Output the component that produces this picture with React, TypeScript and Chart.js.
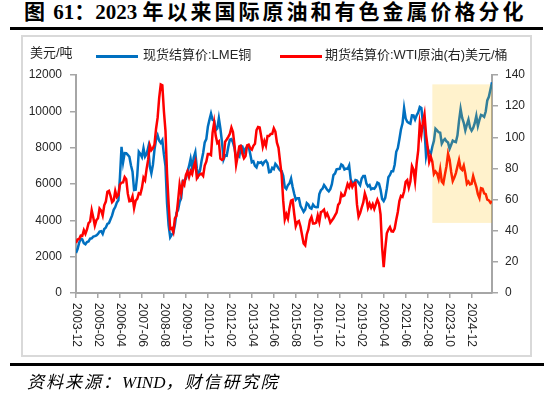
import React, { useEffect, useRef } from 'react';
import { Chart, registerables } from 'chart.js';

Chart.register(...registerables);

// ---- data (monthly, first value = 2003-12) ----
const X_TICK_LABELS = ['2003-12', '2005-02', '2006-04', '2007-06', '2008-08', '2009-10', '2010-12', '2012-02', '2013-04', '2014-06', '2015-08', '2016-10', '2017-12', '2019-02', '2020-04', '2021-06', '2022-08', '2023-10', '2024-12'];
const TICK_STEP_MONTHS = 14;

const COPPER_LABEL = '现货结算价:LME铜';
const WTI_LABEL = '期货结算价:WTI原油(右)';

const COPPER = [
  2200,
  2420, 2760, 3000, 2950, 2740, 2680, 2810, 2840, 2990, 3010, 3100, 3130,
  3170, 3250, 3380, 3400, 3250, 3520, 3600, 3800, 3850, 4060, 4270, 4580,
  4730, 4980, 5100, 6380, 8050, 7200, 7700, 7690, 7600, 7500, 7030, 6680,
  5670, 5690, 6450, 7770, 7650, 7480, 7970, 7510, 7650, 8010, 6970, 6590,
  7060, 7890, 8440, 8680, 8380, 8260, 8410, 7630, 6990, 4930, 3720, 3070,
  3220, 3310, 3750, 4410, 4570, 5010, 5220, 6160, 6200, 6290, 6680, 6980,
  7390, 6850, 7460, 7750, 6840, 6500, 6740, 7280, 7710, 8290, 8470, 9150,
  9530, 9870, 9530, 9490, 8960, 9060, 9620, 9040, 8300, 7350, 7580, 7560,
  8040, 8440, 8470, 8290, 7960, 7420, 7580, 7510, 8090, 8060, 7710, 7960,
  8050, 8060, 7650, 7200, 7250, 7000, 6910, 7190, 7160, 7200, 7070, 7220,
  7290, 7150, 6650, 6670, 6890, 6820, 7110, 7000, 6870, 6740, 6710, 6450,
  5830, 5730, 5940, 6040, 6300, 5830, 5460, 5130, 5220, 5220, 4800, 4640,
  4470, 4600, 4950, 4870, 4690, 4640, 4870, 4750, 4720, 4730, 5450, 5660,
  5740, 5940, 5820, 5680, 5600, 5720, 5990, 6490, 6580, 6810, 6830, 6840,
  7070, 7010, 6800, 6850, 6830, 7020, 6250, 6050, 6050, 6220, 6190, 6070,
  5940, 6300, 6440, 6440, 6030, 5870, 5940, 5710, 5760, 5740, 5860, 6080,
  6030, 5690, 5180, 5060, 5240, 5750, 6370, 6500, 6700, 6700, 7060, 7770,
  7970, 8460, 9000, 9340, 10180, 9610, 9430, 9360, 9320, 9780, 9770, 9550,
  9780, 9940, 10240, 10180, 9360, 9030, 7530, 7980, 7750, 7650, 8050, 8370,
  9040, 8950, 8850, 8820, 8230, 8390, 8480, 8350, 8280, 7940, 8160, 8390,
  8340, 8310, 8680, 9480, 10130, 9640, 9370, 8950, 9270, 9550, 9110, 8940,
  9090, 9350, 9750, 9200, 9530, 9800, 9770, 9700, 9990, 10600, 10800, 11200,
  11600,
];

const WTI = [
  32.1,
  34.3, 34.7, 36.8, 36.7, 40.3, 38.0, 40.8, 44.9, 45.9, 53.1, 48.5, 43.3,
  46.8, 48.0, 54.3, 53.0, 49.8, 56.3, 58.7, 65.0, 65.6, 62.4, 58.3, 59.4,
  65.5, 61.6, 62.9, 69.7, 70.9, 71.0, 74.4, 73.0, 63.8, 58.9, 59.1, 62.0,
  54.5, 59.3, 60.4, 64.0, 63.5, 67.5, 74.1, 72.4, 79.9, 85.8, 94.8, 91.7,
  93.0, 95.4, 105.5, 112.6, 125.4, 133.9, 133.4, 116.7, 104.1, 76.6, 57.3, 41.1,
  41.7, 39.1, 47.9, 49.6, 59.0, 69.6, 64.2, 71.1, 69.4, 75.7, 78.0, 74.5,
  78.3, 76.4, 81.2, 84.3, 73.7, 75.3, 76.3, 76.6, 75.2, 81.9, 84.3, 89.2,
  89.2, 88.6, 102.9, 109.5, 100.9, 96.3, 97.3, 86.3, 85.5, 86.3, 97.2, 98.6,
  100.3, 102.2, 106.2, 103.3, 94.7, 82.3, 87.9, 94.1, 94.5, 89.5, 86.5, 87.9,
  94.8, 95.3, 92.9, 92.0, 94.5, 95.8, 104.6, 106.6, 106.3, 100.5, 93.9, 97.6,
  94.6, 100.8, 100.8, 102.1, 102.2, 105.8, 103.6, 96.5, 93.2, 84.4, 75.8, 59.3,
  47.2, 50.6, 47.8, 54.5, 59.3, 59.8, 50.9, 42.9, 45.5, 46.2, 42.7, 37.3,
  31.8, 30.6, 37.6, 40.8, 46.7, 48.8, 44.7, 44.7, 45.2, 49.8, 45.7, 52.0,
  52.5, 53.5, 49.3, 51.1, 48.5, 45.2, 46.6, 48.0, 49.8, 51.6, 56.6, 57.9,
  63.7, 62.2, 62.7, 66.3, 70.0, 67.9, 71.0, 68.1, 70.2, 70.8, 56.7, 49.0,
  51.4, 54.9, 58.2, 63.9, 60.8, 54.7, 57.4, 54.8, 57.0, 54.0, 57.0, 59.9,
  57.5, 50.5, 29.2, 16.6, 28.5, 38.3, 40.7, 42.3, 39.6, 39.4, 41.4, 47.0,
  52.0, 59.0, 62.3, 61.7, 65.2, 71.4, 72.5, 67.7, 71.6, 81.5, 79.2, 71.7,
  83.2, 91.6, 108.5, 101.8, 109.6, 114.8, 101.6, 93.7, 84.3, 87.6, 84.4, 76.4,
  78.1, 76.8, 73.3, 79.4, 71.6, 70.3, 76.1, 81.4, 89.4, 85.6, 77.7, 71.9,
  74.1, 77.0, 81.3, 85.4, 80.0, 79.0, 81.8, 76.7, 70.2, 71.6, 69.7, 70.1,
  75.1, 71.5, 68.2, 63.5, 61.0, 67.3, 67.0, 64.0, 63.5, 60.0, 59.5, 58.0,
  59.0,
];

// highlighted period: month index (from 2003-12) and right-axis value range
const SHADE_START_INDEX = 227; // 2022-11
const SHADE_WTI_RANGE = [45, 134];

const LEFT_MAX = 12000;
const LEFT_STEP = 2000;
const RIGHT_MAX = 140;
const RIGHT_STEP = 20;

const AXIS_GRAY = '#a6a6a6';
const TEXT_COLOR = '#262626';
const TICK_FONT = { family: '"Liberation Sans", Arial, sans-serif', size: 12 };

const shadePlugin = {
  id: 'shade',
  afterDatasetsDraw(chart: any) {
    const { ctx, scales } = chart;
    const x0 = scales.x.getPixelForValue(SHADE_START_INDEX);
    const x1 = scales.x.getPixelForValue(COPPER.length - 1);
    const y0 = scales.y1.getPixelForValue(SHADE_WTI_RANGE[1]);
    const y1 = scales.y1.getPixelForValue(SHADE_WTI_RANGE[0]);
    ctx.save();
    ctx.fillStyle = 'rgba(255,192,0,0.2)';
    ctx.fillRect(x0, y0, x1 - x0, y1 - y0);
    ctx.restore();
  },
};

const xLabelPlugin = {
  id: 'xLabels',
  afterDraw(chart: any) {
    const { ctx } = chart;
    const sx = chart.scales.x;
    ctx.save();
    ctx.font = `${TICK_FONT.size}px ${TICK_FONT.family}`;
    ctx.fillStyle = TEXT_COLOR;
    ctx.textAlign = 'left';
    ctx.textBaseline = 'middle';
    X_TICK_LABELS.forEach((lab, k) => {
      const px = sx.getPixelForValue(k * TICK_STEP_MONTHS);
      ctx.save();
      ctx.translate(px, sx.top + 10);
      ctx.rotate(Math.PI / 2);
      ctx.fillText(lab, 0, 0);
      ctx.restore();
    });
    ctx.restore();
  },
};

function ChartCanvas() {
  const ref = useRef<HTMLCanvasElement | null>(null);
  useEffect(() => {
    if (!ref.current) return;
    const gridOpts = (len: number) => ({
      display: true,
      drawOnChartArea: false,
      drawTicks: true,
      tickLength: len,
      color: AXIS_GRAY,
      tickColor: AXIS_GRAY,
      lineWidth: 1.5,
    });
    const border = { display: true, color: AXIS_GRAY, width: 2 };
    const plain = (v: any) => String(v);
    const chart = new Chart(ref.current, {
      type: 'line',
      data: {
        datasets: [
          {
            label: COPPER_LABEL,
            data: COPPER.map((v, i) => ({ x: i, y: v })),
            borderColor: '#0070C0',
            backgroundColor: '#0070C0',
            borderWidth: 2.5,
            pointRadius: 0,
            yAxisID: 'y',
            order: 1,
          },
          {
            label: WTI_LABEL,
            data: WTI.map((v, i) => ({ x: i, y: v })),
            borderColor: '#FF0000',
            backgroundColor: '#FF0000',
            borderWidth: 2.5,
            pointRadius: 0,
            yAxisID: 'y1',
            order: 0,
          },
        ],
      },
      options: {
        animation: false,
        responsive: false,
        layout: { padding: { top: 75, left: 0, right: 0, bottom: 0 } },
        plugins: { legend: { display: false }, tooltip: { enabled: false } },
        scales: {
          x: {
            type: 'linear',
            min: 0,
            max: COPPER.length - 1,
            afterBuildTicks: (s: any) => {
              s.ticks = X_TICK_LABELS.map((_, k) => ({ value: k * TICK_STEP_MONTHS }));
            },
            afterFit: (s: any) => {
              s.height = 399 - 293;
            },
            ticks: { display: false },
            grid: gridOpts(5),
            border,
          },
          y: {
            position: 'left',
            min: 0,
            max: LEFT_MAX,
            ticks: { stepSize: LEFT_STEP, font: TICK_FONT, color: TEXT_COLOR, padding: 8, callback: plain },
            afterFit: (s: any) => {
              s.width = 76;
            },
            grid: gridOpts(6),
            border,
          },
          y1: {
            position: 'right',
            min: 0,
            max: RIGHT_MAX,
            ticks: { stepSize: RIGHT_STEP, font: TICK_FONT, color: TEXT_COLOR, padding: 7, callback: plain },
            afterFit: (s: any) => {
              s.width = 550 - 492;
            },
            grid: gridOpts(6),
            border,
          },
        },
      },
      plugins: [shadePlugin, xLabelPlugin],
    } as any);
    return () => chart.destroy();
  }, []);
  return (
    <canvas
      ref={ref}
      width={550}
      height={399}
      style={{ position: 'absolute', left: 0, top: 0, width: 550, height: 399 }}
    />
  );
}

const CJK = '"Noto Sans CJK SC", sans-serif';
const legendText: React.CSSProperties = {
  position: 'absolute',
  fontFamily: '"Liberation Sans", "Noto Sans CJK SC", sans-serif',
  fontSize: 13,
  lineHeight: '16px',
  color: TEXT_COLOR,
  whiteSpace: 'nowrap',
};

export default function App() {
  return (
    <div
      style={{
        position: 'absolute',
        left: 0,
        top: 0,
        width: 550,
        height: 399,
        background: '#fff',
        overflow: 'hidden',
      }}
    >
      {/* title */}
      <div
        style={{
          position: 'absolute',
          left: 24,
          top: 0,
          fontFamily: '"Liberation Serif", "Noto Sans CJK SC", serif',
          fontWeight: 'bold',
          fontSize: 21,
          lineHeight: '24px',
          color: '#000',
          whiteSpace: 'nowrap',
        }}
      >
        <span style={{ letterSpacing: 3 }}>图</span> 61<span>：</span>2023{' '}
        <span style={{ letterSpacing: 3 }}>年以来国际原油和有色金属价格分化</span>
      </div>
      <div style={{ position: 'absolute', left: 10, top: 27, width: 533, height: 3, background: '#000' }} />
      {/* frame */}
      <div
        style={{
          position: 'absolute',
          left: 21,
          top: 35,
          width: 511,
          height: 322,
          border: '2px solid #d9d9d9',
          boxSizing: 'border-box',
        }}
      />
      <ChartCanvas />
      {/* legend and unit labels */}
      <div style={{ ...legendText, left: 30, top: 45 }}>美元/吨</div>
      <div style={{ position: 'absolute', left: 96, top: 55, width: 42, height: 3, background: '#0070C0' }} />
      <div style={{ ...legendText, left: 143, top: 47 }}>{COPPER_LABEL}</div>
      <div style={{ position: 'absolute', left: 280, top: 55, width: 42, height: 3, background: '#FF0000' }} />
      <div style={{ ...legendText, left: 325, top: 47 }}>{WTI_LABEL}</div>
      <div style={{ ...legendText, left: 465, top: 47 }}>美元/桶</div>
      {/* bottom rule and source */}
      <div style={{ position: 'absolute', left: 10, top: 363, width: 534, height: 3, background: '#000' }} />
      <div
        style={{
          position: 'absolute',
          left: 27,
          top: 372,
          fontFamily: '"Liberation Serif", ' + CJK,
          fontStyle: 'italic',
          fontSize: 17,
          lineHeight: '22px',
          color: '#000',
          whiteSpace: 'nowrap',
        }}
      >
        <span style={{ letterSpacing: 2 }}>资料来源：</span>WIND<span style={{ letterSpacing: 2 }}>，财信研究院</span>
      </div>
    </div>
  );
}
